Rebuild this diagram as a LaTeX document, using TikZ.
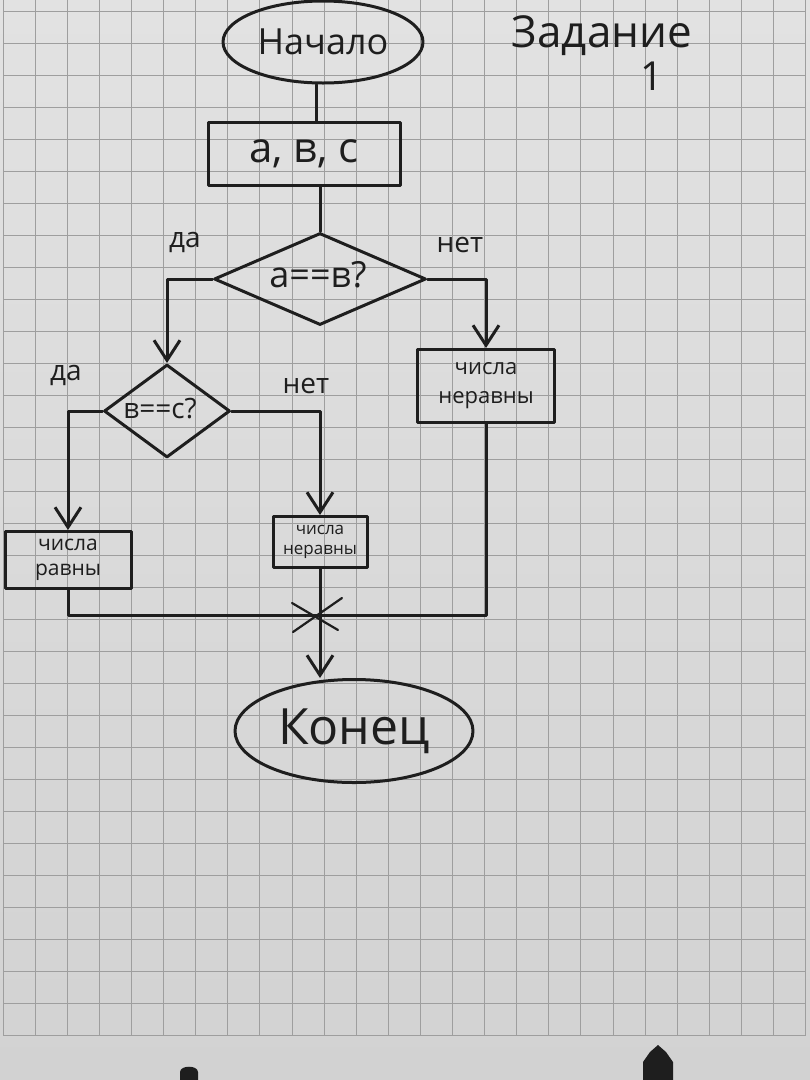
\documentclass[tikz,border=0pt]{standalone}
\usepackage{fontspec}
\setmainfont{Open Sans}
\usetikzlibrary{shapes.geometric,arrows.meta,calc}
\definecolor{ink}{HTML}{1E1E1E}
\definecolor{papertop}{HTML}{E2E2E2}
\definecolor{paperbot}{HTML}{D2D2D2}
\definecolor{gridc}{HTML}{9E9E9E}
\begin{document}
\begin{tikzpicture}[x=1pt,y=-1pt,
  inkline/.style={draw=ink, line width=3pt, line cap=round, line join=round},
  arr/.style={inkline, -{Straight Barb[length=20pt,width=26pt]}},
  term/.style={ellipse, inkline, inner sep=0pt, text=ink},
  box/.style={rectangle, inkline, inner sep=0pt, text=ink, align=center},
  dec/.style={diamond, inkline, inner sep=0pt, text=ink},
  lbl/.style={text=ink, inner sep=0pt},
  gridline/.style={draw=gridc, line width=0.8pt}]
\useasboundingbox (0,0) rectangle (810,1080);
\shade[top color=papertop, bottom color=paperbot] (0,0) rectangle (810,1080);
% grid
\foreach \k in {0,...,25} {\draw[gridline] ({3+32.1*\k},0) -- ({3+32.1*\k},1035);}
\foreach \k in {0,...,32} {\draw[gridline] (3,{11+32*\k}) -- (806,{11+32*\k});}

% nodes
\node[term, minimum width=200pt, minimum height=82pt, font=\fontsize{36}{38}\selectfont] (start) at (323,42) {Начало};
\node[box, minimum width=192pt, minimum height=63pt, font=\fontsize{42}{44}\selectfont] (in) at (304,154) {a, в, c};
\node[dec, minimum width=212pt, minimum height=92pt] (d1) at (320,279) {};
\node[lbl, font=\fontsize{36}{38}\selectfont] (d1t) at (318,275) {a==в?};
\node[box, minimum width=137pt, minimum height=73pt, font=\fontsize{22}{29}\selectfont] (r) at (486,386) {числа\\неравны};
\node[dec, minimum width=126pt, minimum height=93pt] (d2) at (167,411) {};
\node[lbl, font=\fontsize{28}{30}\selectfont] (d2t) at (160,409) {в==с?};
\node[box, minimum width=126pt, minimum height=57pt, font=\fontsize{21}{25}\selectfont] (l) at (68,560) {числа\\равны};
\node[box, minimum width=94pt, minimum height=51pt, font=\fontsize{17}{20}\selectfont] (m) at (320,542) {числа\\неравны};
\node[term, minimum width=238pt, minimum height=103pt, font=\fontsize{50}{52}\selectfont] (end) at (354,731) {Конец};
\coordinate (J) at (320,615);

% labels
\node[lbl, font=\fontsize{44}{46}\selectfont] (t1) at (602,36) {Задание};
\node[lbl, font=\fontsize{40}{42}\selectfont] (t2) at (652,76) {1};
\node[lbl, font=\fontsize{28}{30}\selectfont] (y1) at (185,242) {да};
\node[lbl, font=\fontsize{28}{30}\selectfont] (n1) at (460,245) {нет};
\node[lbl, font=\fontsize{28}{30}\selectfont] (y2) at (66,375) {да};
\node[lbl, font=\fontsize{28}{30}\selectfont] (n2) at (306,386) {нет};

% connectors
\draw[inkline] (start.south -| 316,0) -- (in.north -| 316,0);
\draw[inkline] (in.south -| d1.north) -- (d1.north);
\draw[arr] (d1.west) -| (d2.north);
\draw[arr] (d1.east) -| (r.north);
\draw[arr] (d2.west) -| (l.north);
\draw[arr] (d2.east) -| (m.north);
\draw[inkline] (l.south) |- (J);
\draw[inkline] (m.south) -- (J);
\draw[inkline] (r.south) |- (J);
\draw[arr] (J) -- (J |- end.north);
% cross mark at junction
\draw[inkline, line width=2.2pt] ($(J)+(-28,-12)$) -- ($(J)+(18,15)$);
\draw[inkline, line width=2.2pt] ($(J)+(22,-17)$) -- ($(J)+(-27,17)$);

% camera UI artefacts at bottom
\fill[ink] (180,1080) -- (180,1072) to[out=90,in=90] (198,1072) -- (198,1080) -- cycle;
\fill[ink] (643,1080) -- (643,1062) -- (650,1052) -- (658,1045) -- (666,1052) -- (673,1062) -- (673,1080) -- cycle;
\end{tikzpicture}
\end{document}
